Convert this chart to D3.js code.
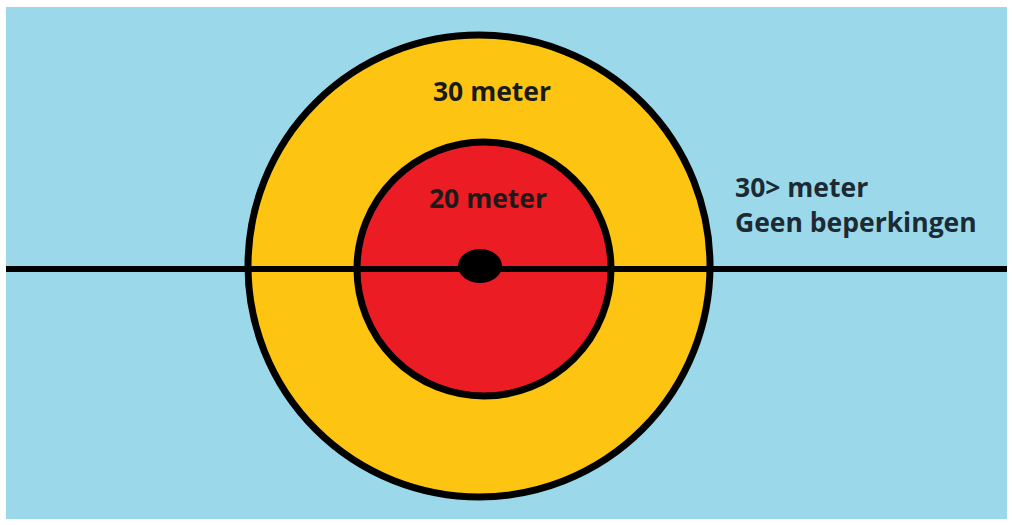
<!DOCTYPE html>
<html>
<head>
<meta charset="utf-8">
<script src="https://cdn.jsdelivr.net/npm/d3@7"></script>
<style>
  html, body { margin: 0; padding: 0; background: #ffffff; }
  svg { display: block; }
  text { font-family: "Open Sans", "Noto Sans", sans-serif; font-weight: 700; }
</style>
</head>
<body>
<svg id="chart" width="1012" height="525"></svg>
<script>
// Zones (distance in meters) drawn from outside to inside
const zoneMeters = [30, 20];
const zoneLabels = ["30 meter", "20 meter"];
const zoneColors = ["#fdc511", "#ec1c24"];
const outsideLabel = ["30> meter", "Geen beperkingen"];

const W = 1012, H = 525;
const svg = d3.select("#chart");

const bg = { x0: 6, y0: 7, x1: 1007, y1: 519 };
const cx = 481, cy = 267;

// radius scale: meters -> pixels (hand-drawn, piecewise)
const r = d3.scaleLinear().domain([0, 20, 30]).range([0, 127, 231]);

svg.append("rect")
  .attr("x", bg.x0).attr("y", bg.y0)
  .attr("width", bg.x1 - bg.x0).attr("height", bg.y1 - bg.y0)
  .attr("fill", "#9bd8e9");

const g = svg.append("g").attr("transform", `translate(${cx},${cy})`);

g.selectAll("circle.zone")
  .data(zoneMeters)
  .join("circle")
  .attr("class", "zone")
  .attr("cx", (d, i) => i === 0 ? -2 : 3)
  .attr("cy", (d, i) => i === 0 ? -1 : 2)
  .attr("r", d => r(d))
  .attr("fill", (d, i) => zoneColors[i])
  .attr("stroke", "#000")
  .attr("stroke-width", 7);

// horizontal line across
svg.append("line")
  .attr("x1", bg.x0).attr("x2", bg.x1)
  .attr("y1", 269).attr("y2", 269)
  .attr("stroke", "#000").attr("stroke-width", 6);

// center dot
g.append("ellipse")
  .attr("cx", -1).attr("cy", -1)
  .attr("rx", 22).attr("ry", 17)
  .attr("fill", "#000");

// zone labels
g.selectAll("text.zlabel")
  .data(zoneMeters)
  .join("text")
  .attr("class", "zlabel")
  .attr("x", (d, i) => i === 0 ? 11 : 7)
  .attr("y", (d, i) => i === 0 ? -166 : -59)
  .attr("text-anchor", "middle")
  .attr("font-size", 26.5)
  .attr("fill", "#1a1a1a")
  .text((d, i) => zoneLabels[i]);

svg.selectAll("text.out")
  .data(outsideLabel)
  .join("text")
  .attr("class", "out")
  .attr("x", 735)
  .attr("y", (d, i) => 197 + i * 35)
  .attr("font-size", 26.5)
  .attr("fill", "#1b2a33")
  .text(d => d);
</script>
</body>
</html>
